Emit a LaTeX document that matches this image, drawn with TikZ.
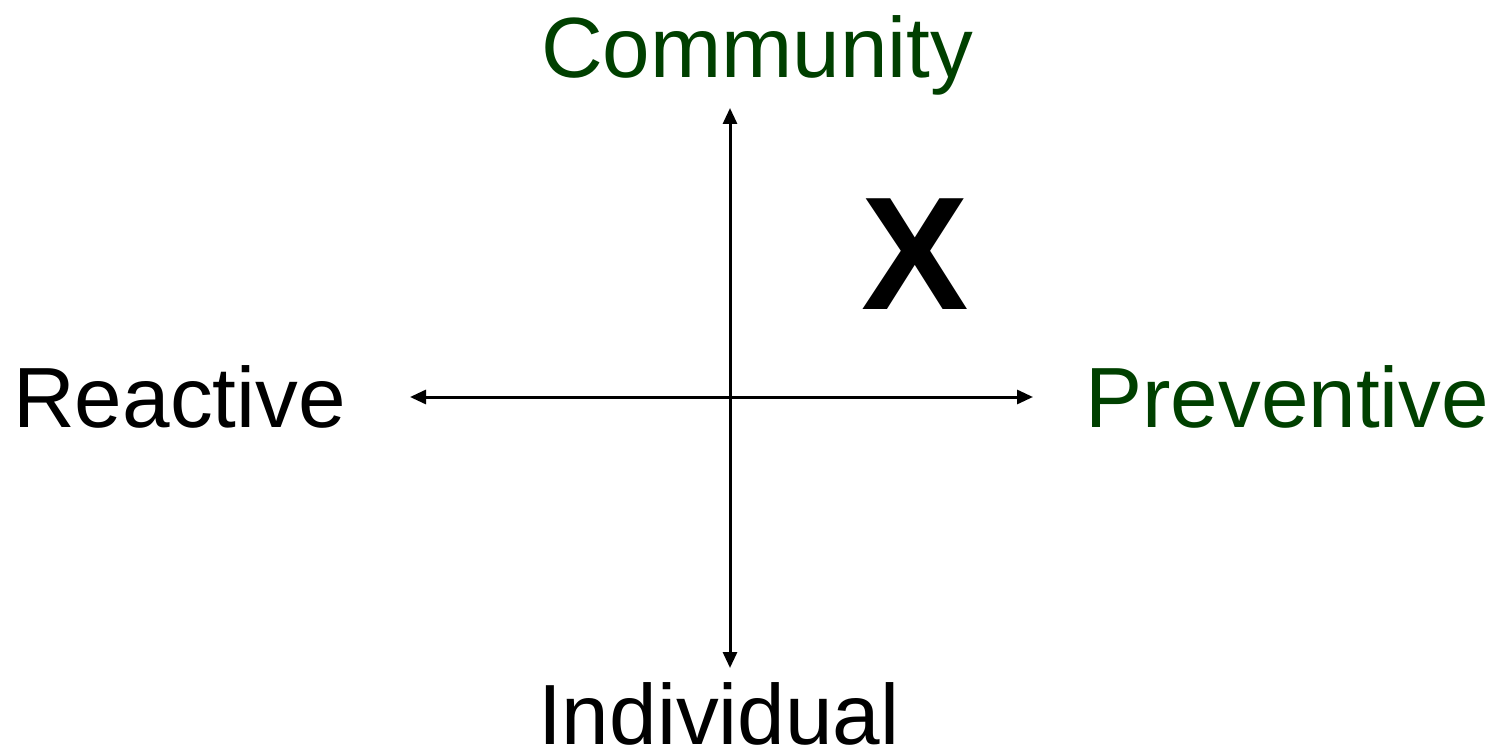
\documentclass[tikz,border=0pt]{standalone}
\usepackage{fontspec}
\setmainfont{Liberation Sans}
\usetikzlibrary{arrows.meta}
\definecolor{axgreen}{RGB}{0,64,0}
\begin{document}
\begin{tikzpicture}[x=1pt,y=-1pt,
  lbl/.style={inner sep=0pt,anchor=base west,font=\fontsize{85.5}{85.5}\selectfont},
  axis/.style={line width=3pt,{Triangle[length=16pt,width=14pt]}-{Triangle[length=16pt,width=14pt]}}]
\useasboundingbox (0,0) rectangle (1502,751);
\coordinate (top) at (730,108);
\coordinate (bot) at (730,668);
\coordinate (left) at (410,397);
\coordinate (right) at (1033,397);
\draw[axis] (top) -- (bot);
\draw[axis] (left) -- (right);
\node[lbl,text=axgreen] (community) at (541,78) {Community};
\node[lbl] (reactive) at (13,427) {Reactive};
\node[lbl,text=axgreen] (preventive) at (1085,427) {Preventive};
\node[lbl] (individual) at (538,744) {Individual};
\node[inner sep=0pt,anchor=base west,font=\fontsize{161}{161}\selectfont\bfseries] (x) at (861,310) {X};
\end{tikzpicture}
\end{document}
